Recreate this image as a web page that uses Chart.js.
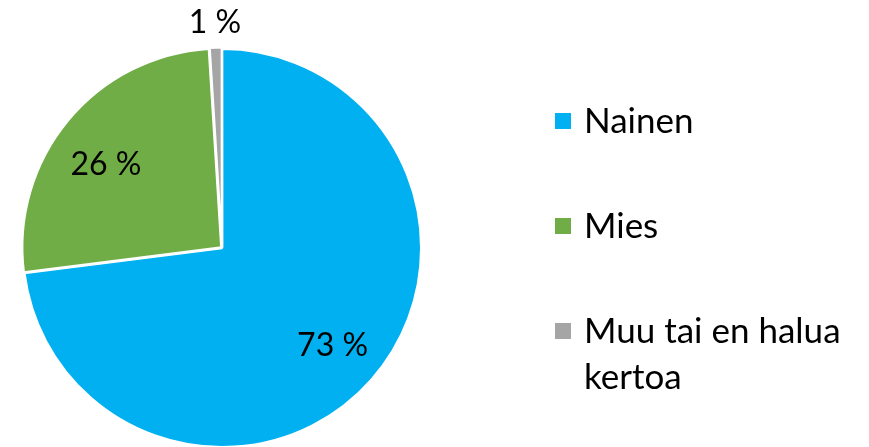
<!DOCTYPE html>
<html>
<head>
<meta charset="utf-8">
<script src="https://cdn.jsdelivr.net/npm/chart.js@4"></script>
<style>
  html, body { margin: 0; padding: 0; background: #fff; overflow: hidden; }
  #wrap { position: relative; width: 869px; height: 447px; overflow: hidden; }
  #c { position: absolute; left: 0; top: 0; }
  #legend { position: absolute; left: 555px; top: 0; font-family: Lato, "Open Sans", sans-serif; font-size: 35px; color: #000; }
  .item { position: absolute; left: 0; width: 310px; }
  .sw { position: absolute; left: 0; width: 16px; height: 16px; }
  .tx { position: absolute; left: 29px; line-height: 46px; white-space: nowrap; }
</style>
</head>
<body>
<div id="wrap">
  <canvas id="c" width="869" height="452"></canvas>
  <div id="legend"></div>
</div>
<script>
const categories = ["Nainen", "Mies", "Muu tai en halua kertoa"];
const legendLines = [["Nainen"], ["Mies"], ["Muu tai en halua", "kertoa"]];
const values = [73, 26, 1];
const valueLabels = ["73 %", "26 %", "1 %"];
const colors = ["#00B0F0", "#70AD47", "#A5A5A5"];

const FONT = 'Lato, "Open Sans", sans-serif';
// label placement style: radius factor and small nudges (pixels)
const labelStyle = [
  { rf: 0.74, dx: 0, dy: 0 },
  { rf: 0.73, dx: -4, dy: 9 },
  { rf: null, out: 28, dx: 0, dy: 2 }
];

const labelPlugin = {
  id: 'sliceLabels',
  afterDatasetsDraw(chart) {
    const ctx = chart.ctx;
    const meta = chart.getDatasetMeta(0);
    ctx.save();
    ctx.font = '32px ' + FONT;
    ctx.fillStyle = '#000';
    ctx.textAlign = 'center';
    ctx.textBaseline = 'middle';
    meta.data.forEach((arc, i) => {
      const p = arc.getProps(['x','y','startAngle','endAngle','outerRadius'], true);
      const mid = (p.startAngle + p.endAngle) / 2;
      const s = labelStyle[i];
      const r = s.rf === null ? p.outerRadius + s.out : p.outerRadius * s.rf;
      const x = p.x + Math.cos(mid) * r + s.dx;
      const y = p.y + Math.sin(mid) * r + s.dy;
      ctx.fillText(valueLabels[i], x, y);
    });
    ctx.restore();
  }
};

new Chart(document.getElementById('c'), {
  type: 'pie',
  data: {
    labels: categories,
    datasets: [{
      data: values,
      backgroundColor: colors,
      borderColor: '#ffffff',
      borderWidth: 2.5,
      offset: [0, 3, 3]
    }]
  },
  options: {
    responsive: false,
    animation: false,
    layout: { padding: { left: 20, right: 445, top: 46, bottom: 2 } },
    plugins: { legend: { display: false }, tooltip: { enabled: false } }
  },
  plugins: [labelPlugin]
});

// HTML legend
const tops = [96, 201, 306];
const leg = document.getElementById('legend');
categories.forEach((c, i) => {
  const it = document.createElement('div');
  it.className = 'item';
  it.style.top = tops[i] + 'px';
  const sw = document.createElement('div');
  sw.className = 'sw';
  sw.style.background = colors[i];
  sw.style.top = '17px';
  const tx = document.createElement('div');
  tx.className = 'tx';
  tx.style.top = '0px';
  tx.innerHTML = legendLines[i].join('<br>');
  it.appendChild(sw);
  it.appendChild(tx);
  leg.appendChild(it);
});
</script>
</body>
</html>
